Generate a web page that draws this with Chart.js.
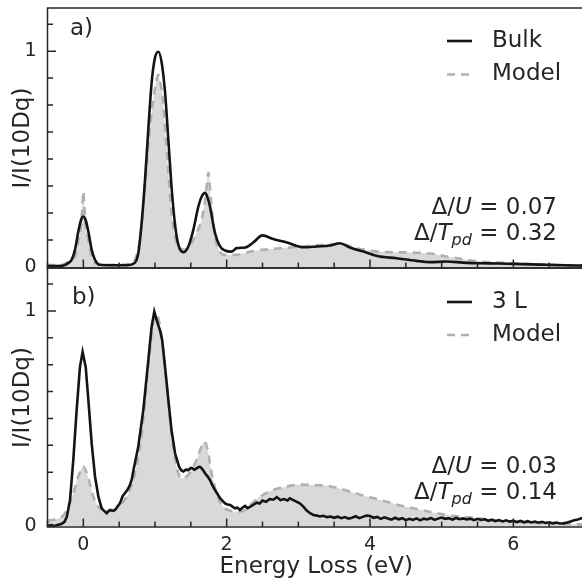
<!DOCTYPE html>
<html>
<head>
<meta charset="utf-8">
<script src="https://cdn.jsdelivr.net/npm/chart.js@4.4.1/dist/chart.umd.min.js"></script>
<style>
  html, body { margin: 0; padding: 0; background: #fff; width: 582px; height: 581px; overflow: hidden; }
  .panel { position: absolute; left: 0; }
  #panelA { top: 0; }
  #panelB { top: 260px; }
</style>
</head>
<body>
<canvas id="panelA" class="panel" width="600" height="285"></canvas>
<canvas id="panelB" class="panel" width="600" height="321"></canvas>
<script>
const FONT = 'DejaVu Sans';
const INK = '#262626';

// tick positions (eV on x, I/I(10Dq) on y)
const xTickValues = [-0.5, 0, 0.5, 1, 1.5, 2, 2.5, 3, 3.5, 4, 4.5, 5, 5.5, 6, 6.5, 7];
const xTickLabels = [0, 2, 4, 6];
const yTickValues = [0, 0.125, 0.25, 0.375, 0.5, 0.625, 0.75, 0.875, 1, 1.125];
const yTickLabels = [0, 1];

// panel a) - bulk spectrum and model, [energy, intensity]
const bulkData = [
  [-0.5, 0.004], [-0.3, 0.005], [-0.2, 0.02], [-0.163, 0.033], [-0.116, 0.08], [-0.07, 0.164],
  [-0.03, 0.22], [0, 0.234], [0.03, 0.22], [0.07, 0.164], [0.116, 0.08], [0.163, 0.033],
  [0.23, 0.01], [0.4, 0.008], [0.6, 0.008], [0.72, 0.02], [0.767, 0.064], [0.81, 0.19],
  [0.86, 0.40], [0.907, 0.64], [0.953, 0.854], [1.0, 0.97], [1.047, 0.997], [1.093, 0.947],
  [1.14, 0.81], [1.186, 0.59], [1.23, 0.374], [1.28, 0.195], [1.326, 0.102], [1.395, 0.068],
  [1.465, 0.095], [1.535, 0.172], [1.605, 0.28], [1.65, 0.325], [1.698, 0.343], [1.735, 0.32],
  [1.767, 0.28], [1.837, 0.157], [1.907, 0.095], [1.977, 0.076], [2.07, 0.071], [2.14, 0.087],
  [2.26, 0.09], [2.37, 0.113], [2.5, 0.146], [2.65, 0.129], [2.84, 0.113], [3.07, 0.091],
  [3.26, 0.095], [3.44, 0.099], [3.58, 0.11], [3.72, 0.09], [3.91, 0.071], [4.1, 0.051],
  [4.37, 0.04], [4.65, 0.028], [4.84, 0.022], [5.07, 0.025], [5.3, 0.02], [5.54, 0.017],
  [5.8, 0.016], [6.0, 0.014], [6.25, 0.012], [6.47, 0.01], [6.7, 0.008], [7.0, 0.006]
];
const modelAData = [
  [-0.5, 0.008], [-0.3, 0.01], [-0.2, 0.025], [-0.116, 0.048], [-0.07, 0.12], [-0.03, 0.2],
  [-0.01, 0.3], [0, 0.35], [0.01, 0.3], [0.03, 0.2], [0.07, 0.126], [0.116, 0.048],
  [0.163, 0.017], [0.25, 0.01], [0.5, 0.01], [0.65, 0.015], [0.72, 0.033], [0.79, 0.126],
  [0.837, 0.28], [0.884, 0.467], [0.93, 0.65], [0.977, 0.777], [1.023, 0.87], [1.045, 0.89],
  [1.07, 0.86], [1.093, 0.82], [1.14, 0.65], [1.186, 0.436], [1.23, 0.25], [1.28, 0.14],
  [1.35, 0.087], [1.42, 0.079], [1.51, 0.11], [1.58, 0.157], [1.65, 0.22], [1.707, 0.327],
  [1.744, 0.436], [1.78, 0.31], [1.83, 0.157], [1.88, 0.087], [1.977, 0.056], [2.12, 0.056],
  [2.26, 0.064], [2.33, 0.071], [2.6, 0.082], [2.89, 0.09], [3.17, 0.098], [3.44, 0.105],
  [3.58, 0.107], [3.82, 0.087], [4.1, 0.071], [4.37, 0.068], [4.65, 0.066], [4.84, 0.062],
  [5.07, 0.048], [5.3, 0.036], [5.54, 0.025], [5.8, 0.02], [6.0, 0.017], [6.47, 0.01], [7.0, 0.005]
];

// panel b) - 3 L spectrum and model
const thinData = [
  [-0.5, 0.0], [-0.45, 0.004], [-0.4, 0.0], [-0.35, 0.006], [-0.3, 0.01], [-0.26, 0.02],
  [-0.23, 0.043], [-0.186, 0.12], [-0.14, 0.307], [-0.093, 0.54], [-0.047, 0.74], [-0.01, 0.81],
  [0.033, 0.74], [0.07, 0.586], [0.116, 0.385], [0.163, 0.23], [0.21, 0.136], [0.256, 0.082],
  [0.29, 0.07], [0.326, 0.059], [0.35, 0.068], [0.372, 0.074], [0.41, 0.07], [0.44, 0.073],
  [0.51, 0.105], [0.55, 0.14], [0.58, 0.152], [0.62, 0.17], [0.65, 0.19], [0.675, 0.215],
  [0.70, 0.26], [0.767, 0.37], [0.837, 0.54], [0.907, 0.772], [0.953, 0.927], [0.99, 0.997],
  [1.023, 0.958], [1.05, 0.93], [1.07, 0.91], [1.1, 0.865], [1.14, 0.74], [1.186, 0.586],
  [1.23, 0.447], [1.28, 0.338], [1.335, 0.276], [1.37, 0.258], [1.395, 0.253], [1.43, 0.262],
  [1.465, 0.26], [1.5, 0.27], [1.52, 0.268], [1.55, 0.262], [1.58, 0.268], [1.61, 0.275],
  [1.637, 0.273], [1.67, 0.26], [1.698, 0.245], [1.73, 0.232], [1.767, 0.214], [1.80, 0.19],
  [1.837, 0.167], [1.87, 0.15], [1.907, 0.129], [1.94, 0.118], [1.977, 0.105], [2.01, 0.1],
  [2.05, 0.098], [2.08, 0.09], [2.116, 0.082], [2.15, 0.085], [2.186, 0.074], [2.22, 0.085],
  [2.256, 0.093], [2.29, 0.083], [2.33, 0.09], [2.38, 0.1], [2.42, 0.108], [2.46, 0.104],
  [2.5, 0.118], [2.55, 0.112], [2.6, 0.125], [2.65, 0.122], [2.7, 0.134], [2.75, 0.12],
  [2.8, 0.125], [2.85, 0.118], [2.88, 0.128], [2.93, 0.12], [2.98, 0.112], [3.02, 0.105],
  [3.07, 0.09], [3.12, 0.07], [3.17, 0.058], [3.21, 0.051], [3.26, 0.048], [3.3, 0.044],
  [3.35, 0.047], [3.4, 0.041], [3.45, 0.044], [3.5, 0.038], [3.55, 0.043], [3.6, 0.036],
  [3.65, 0.041], [3.7, 0.034], [3.75, 0.038], [3.8, 0.045], [3.85, 0.036], [3.9, 0.042],
  [3.95, 0.048], [4.0, 0.046], [4.05, 0.038], [4.1, 0.042], [4.15, 0.033], [4.2, 0.04],
  [4.25, 0.035], [4.3, 0.029], [4.35, 0.038], [4.4, 0.031], [4.45, 0.036], [4.5, 0.027],
  [4.55, 0.033], [4.6, 0.028], [4.65, 0.035], [4.7, 0.026], [4.75, 0.034], [4.8, 0.03],
  [4.85, 0.037], [4.9, 0.028], [4.95, 0.034], [5.0, 0.039], [5.05, 0.033], [5.1, 0.036],
  [5.15, 0.029], [5.2, 0.037], [5.25, 0.031], [5.3, 0.035], [5.35, 0.03], [5.4, 0.034],
  [5.45, 0.027], [5.5, 0.033], [5.55, 0.028], [5.6, 0.031], [5.65, 0.024], [5.7, 0.029],
  [5.75, 0.022], [5.8, 0.027], [5.85, 0.021], [5.9, 0.026], [5.95, 0.02], [6.0, 0.024],
  [6.05, 0.018], [6.1, 0.023], [6.15, 0.017], [6.2, 0.022], [6.25, 0.016], [6.3, 0.02],
  [6.35, 0.015], [6.4, 0.019], [6.45, 0.014], [6.5, 0.017], [6.55, 0.012], [6.6, 0.016],
  [6.65, 0.011], [6.7, 0.012], [6.75, 0.016], [6.8, 0.021], [6.85, 0.026], [6.9, 0.03],
  [6.95, 0.036], [7.0, 0.04]
];
const modelBData = [
  [-0.5, 0.025], [-0.395, 0.03], [-0.256, 0.059], [-0.14, 0.152], [-0.07, 0.23], [0, 0.276],
  [0.07, 0.222], [0.14, 0.136], [0.21, 0.09], [0.3, 0.074], [0.42, 0.074], [0.535, 0.105],
  [0.63, 0.152], [0.72, 0.245], [0.814, 0.43], [0.907, 0.74], [0.977, 0.958], [1.023, 0.98],
  [1.093, 0.88], [1.163, 0.66], [1.23, 0.43], [1.3, 0.276], [1.37, 0.222], [1.44, 0.23],
  [1.51, 0.26], [1.58, 0.307], [1.65, 0.37], [1.69, 0.392], [1.735, 0.353], [1.79, 0.245],
  [1.86, 0.152], [1.93, 0.098], [2.02, 0.074], [2.14, 0.067], [2.256, 0.074], [2.37, 0.11],
  [2.56, 0.155], [2.79, 0.18], [3.02, 0.192], [3.21, 0.19], [3.44, 0.185], [3.67, 0.165],
  [3.9, 0.142], [4.14, 0.121], [4.37, 0.1], [4.6, 0.082], [4.83, 0.066], [5.07, 0.051],
  [5.3, 0.042], [5.54, 0.034], [5.77, 0.026], [6.0, 0.02], [6.47, 0.012], [7.0, 0.006]
];

const toPoints = rows => rows.map(([x, y]) => ({ x, y }));

function drawRich(ctx, parts, rightX, baseY) {
  const fontFor = st => st === 'n' ? `23px "${FONT}"` : st === 'i' ? `italic 23px "${FONT}"` : `italic 16px "${FONT}"`;
  let total = 0;
  parts.forEach(([t, st]) => { ctx.font = fontFor(st); total += ctx.measureText(t).width; });
  let x = rightX - total;
  parts.forEach(([t, st]) => {
    ctx.font = fontFor(st);
    ctx.fillText(t, x, baseY + (st === 's' ? 5 : 0));
    x += ctx.measureText(t).width;
  });
}

// frame, inward ticks, legend, panel letter and parameter notes
const panelDecor = {
  id: 'panelDecor',
  afterDraw(chart, args, opts) {
    const { ctx, chartArea: a, scales: { x, y } } = chart;
    ctx.save();
    ctx.strokeStyle = INK;
    ctx.lineWidth = 1.5;
    ctx.strokeRect(a.left, a.top, a.right - a.left, a.bottom - a.top);

    ctx.beginPath();
    xTickValues.forEach(v => {
      const px = x.getPixelForValue(v);
      const len = xTickLabels.includes(v) ? 8.5 : 5.5;
      ctx.moveTo(px, a.bottom);
      ctx.lineTo(px, a.bottom - len);
    });
    yTickValues.forEach(v => {
      const py = y.getPixelForValue(v);
      const len = yTickLabels.includes(v) ? 8.5 : 5.5;
      ctx.moveTo(a.left, py);
      ctx.lineTo(a.left + len, py);
    });
    ctx.stroke();

    ctx.fillStyle = INK;
    ctx.textBaseline = 'alphabetic';
    ctx.textAlign = 'left';
    ctx.font = `23px "${FONT}"`;
    ctx.fillText(opts.letter, opts.letterX, a.top + opts.letterY);

    // legend
    chart.data.datasets.forEach((ds, i) => {
      const cy = a.top + opts.legendY[i];
      ctx.save();
      ctx.strokeStyle = ds.borderColor;
      ctx.lineWidth = ds.borderWidth;
      ctx.setLineDash(ds.borderDash || []);
      ctx.beginPath();
      ctx.moveTo(447, cy);
      ctx.lineTo(472, cy);
      ctx.stroke();
      ctx.restore();
      ctx.textBaseline = 'middle';
      ctx.font = `23px "${FONT}"`;
      ctx.fillText(ds.label, 492, cy);
    });

    ctx.textBaseline = 'alphabetic';
    opts.notes.forEach((parts, i) => drawRich(ctx, parts, 557, a.bottom + opts.noteY[i]));
    ctx.restore();
  }
};

function makePanel(id, series, cfg) {
  return new Chart(document.getElementById(id), {
    type: 'line',
    data: {
      datasets: [
        {
          label: series.label,
          data: toPoints(series.data),
          borderColor: '#141414',
          borderWidth: 2.6,
          pointRadius: 0,
          tension: series.smooth ? 0.4 : 0,
          cubicInterpolationMode: series.smooth ? 'monotone' : 'default',
          fill: false
        },
        {
          label: 'Model',
          data: toPoints(series.model),
          borderColor: '#b0b0b0',
          borderWidth: 2.6,
          borderDash: [8, 6],
          pointRadius: 0,
          cubicInterpolationMode: 'monotone',
          fill: 'origin',
          backgroundColor: '#d9d9d9'
        }
      ]
    },
    options: {
      responsive: false,
      animation: false,
      events: [],
      layout: { padding: { top: 8, right: 15, bottom: cfg.padBottom, left: 0 } },
      plugins: {
        legend: { display: false },
        tooltip: { enabled: false },
        panelDecor: cfg.decor
      },
      scales: {
        x: {
          type: 'linear',
          min: -0.5,
          max: 7,
          afterBuildTicks: s => { s.ticks = xTickLabels.map(v => ({ value: v })); },
          afterFit: s => {
            s.height = cfg.xHeight;
            s.paddingLeft = 0; s.paddingRight = 0; s.paddingTop = 0; s.paddingBottom = 0;
          },
          ticks: { display: cfg.showX, color: INK, font: { family: FONT, size: 19 }, padding: 7, autoSkip: false, maxRotation: 0 },
          grid: { display: false, drawTicks: false },
          border: { display: false },
          title: { display: cfg.showX, text: 'Energy Loss (eV)', color: INK, font: { family: FONT, size: 23 }, padding: 0 }
        },
        y: {
          min: -0.005,
          max: 1.2,
          afterBuildTicks: s => { s.ticks = yTickLabels.map(v => ({ value: v })); },
          afterFit: s => {
            s.width = 47.5;
            s.paddingLeft = 0; s.paddingRight = 0; s.paddingTop = 0; s.paddingBottom = 0;
          },
          ticks: { color: INK, font: { family: FONT, size: 19 }, padding: 11 },
          grid: { display: false, drawTicks: false },
          border: { display: false },
          title: { display: true, text: 'I/I(10Dq)', color: INK, font: { family: FONT, size: 23 }, padding: { top: 9, bottom: 0 } }
        }
      }
    },
    plugins: [panelDecor]
  });
}

makePanel('panelA', { label: 'Bulk', data: bulkData, model: modelAData, smooth: true }, {
  padBottom: 17, xHeight: 0, showX: false,
  decor: {
    letter: 'a)', letterX: 70, letterY: 27, legendY: [33, 66.5], noteY: [-54, -28],
    notes: [
      [['Δ/', 'n'], ['U', 'i'], [' = 0.07', 'n']],
      [['Δ/', 'n'], ['T', 'i'], ['pd', 's'], [' = 0.32', 'n']]
    ]
  }
});

makePanel('panelB', { label: '3 L', data: thinData, model: modelBData, smooth: false }, {
  padBottom: 0, xHeight: 54, showX: true,
  decor: {
    letter: 'b)', letterX: 72, letterY: 36, legendY: [34, 67], noteY: [-54, -28],
    notes: [
      [['Δ/', 'n'], ['U', 'i'], [' = 0.03', 'n']],
      [['Δ/', 'n'], ['T', 'i'], ['pd', 's'], [' = 0.14', 'n']]
    ]
  }
});
</script>
</body>
</html>
